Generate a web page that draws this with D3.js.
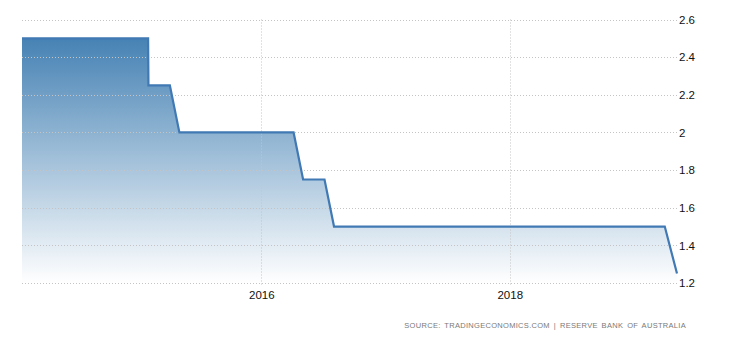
<!DOCTYPE html>
<html>
<head>
<meta charset="utf-8">
<script src="https://cdn.jsdelivr.net/npm/d3@7"></script>
<style>
  html, body { margin: 0; padding: 0; background: #fff; }
  svg { display: block; }
  text { font-family: "Liberation Sans", Arial, sans-serif; }
</style>
</head>
<body>
<script>
// ---- data ----
const dates = ["2014-01-27","2015-02-02","2015-02-03","2015-04-07","2015-05-05",
               "2016-04-05","2016-05-03","2016-07-05","2016-08-02","2019-04-02","2019-05-08"];
const rates = [2.5, 2.5, 2.25, 2.25, 2.0, 2.0, 1.75, 1.75, 1.5, 1.5, 1.25];
const yTickValues = [1.2, 1.4, 1.6, 1.8, 2.0, 2.2, 2.4, 2.6];
const yTickLabels = ["1.2", "1.4", "1.6", "1.8", "2", "2.2", "2.4", "2.6"];
const xTickYears = [2016, 2018];
const xTickLabels = ["2016", "2018"];
const sourceText = "SOURCE: TRADINGECONOMICS.COM | RESERVE BANK OF AUSTRALIA";

// ---- layout ----
const W = 730, H = 340;
const mLeft = 22, mRight = 677, mTop = 19.5, mBottom = 283;

const parse = d3.utcParse("%Y-%m-%d");
const data = dates.map((d, i) => ({ date: parse(d), value: rates[i] }));

const x = d3.scaleUtc()
  .domain(d3.extent(data, d => d.date))
  .range([mLeft, mRight]);
const y = d3.scaleLinear()
  .domain([d3.min(yTickValues), d3.max(yTickValues)])
  .range([mBottom, mTop]);

const svg = d3.select("body").append("svg")
  .attr("width", W).attr("height", H);

const defs = svg.append("defs");
const grad = defs.append("linearGradient")
  .attr("id", "fillGrad")
  .attr("gradientUnits", "userSpaceOnUse")
  .attr("x1", 0).attr("x2", 0)
  .attr("y1", y(2.5)).attr("y2", mBottom);
grad.append("stop").attr("offset", "0%").attr("stop-color", "#4682b4");
grad.append("stop").attr("offset", "100%").attr("stop-color", "#ffffff");

// area
const area = d3.area()
  .x(d => x(d.date))
  .y0(mBottom)
  .y1(d => y(d.value));
svg.append("path")
  .datum(data)
  .attr("d", area)
  .attr("fill", "url(#fillGrad)");

// gridlines
const grid = svg.append("g").attr("class", "grid");
grid.selectAll("line.h")
  .data(yTickValues)
  .join("line")
  .attr("class", "h")
  .attr("x1", mLeft).attr("x2", mRight)
  .attr("y1", d => Math.round(y(d)) + 0.5)
  .attr("y2", d => Math.round(y(d)) + 0.5)
  .attr("stroke", "#c4c4c4")
  .attr("stroke-width", 1)
  .attr("stroke-dasharray", "1,2");

const xTickDates = xTickYears.map(yr => new Date(Date.UTC(yr, 0, 1)));
grid.selectAll("line.v")
  .data(xTickDates)
  .join("line")
  .attr("class", "v")
  .attr("x1", d => Math.round(x(d)) + 0.5)
  .attr("x2", d => Math.round(x(d)) + 0.5)
  .attr("y1", mTop).attr("y2", mBottom + 2)
  .attr("stroke", "#c4c4c4")
  .attr("stroke-width", 1)
  .attr("stroke-dasharray", "1,2");

// line
const line = d3.line()
  .x(d => x(d.date))
  .y(d => y(d.value));
svg.append("path")
  .datum(data)
  .attr("d", line)
  .attr("fill", "none")
  .attr("stroke", "#4079b4")
  .attr("stroke-width", 2.2)
  .attr("stroke-linejoin", "miter");

// y axis (right)
const yAxis = d3.axisRight(y)
  .tickValues(yTickValues)
  .tickFormat((d, i) => yTickLabels[i])
  .tickSize(0)
  .tickPadding(2);
const gy = svg.append("g")
  .attr("transform", `translate(${mRight},0)`)
  .call(yAxis);
gy.select(".domain").remove();
gy.selectAll("text")
  .attr("font-size", "11.5px")
  .attr("font-family", "'Liberation Sans', Arial, sans-serif")
  .attr("fill", "#111");

// x axis
const xAxis = d3.axisBottom(x)
  .tickValues(xTickDates)
  .tickFormat((d, i) => xTickLabels[i])
  .tickSize(0)
  .tickPadding(8);
const gx = svg.append("g")
  .attr("transform", `translate(0,${mBottom})`)
  .call(xAxis);
gx.select(".domain").remove();
gx.selectAll("text")
  .attr("font-size", "11.5px")
  .attr("font-family", "'Liberation Sans', Arial, sans-serif")
  .attr("fill", "#111");

// source
svg.append("text")
  .attr("x", 686)
  .attr("y", 327.5)
  .attr("text-anchor", "end")
  .attr("font-size", "7.5px")
  .attr("letter-spacing", "0.3px")
  .attr("word-spacing", "1.5px")
  .attr("fill", "#7a7a7a")
  .text(sourceText);
</script>
</body>
</html>
